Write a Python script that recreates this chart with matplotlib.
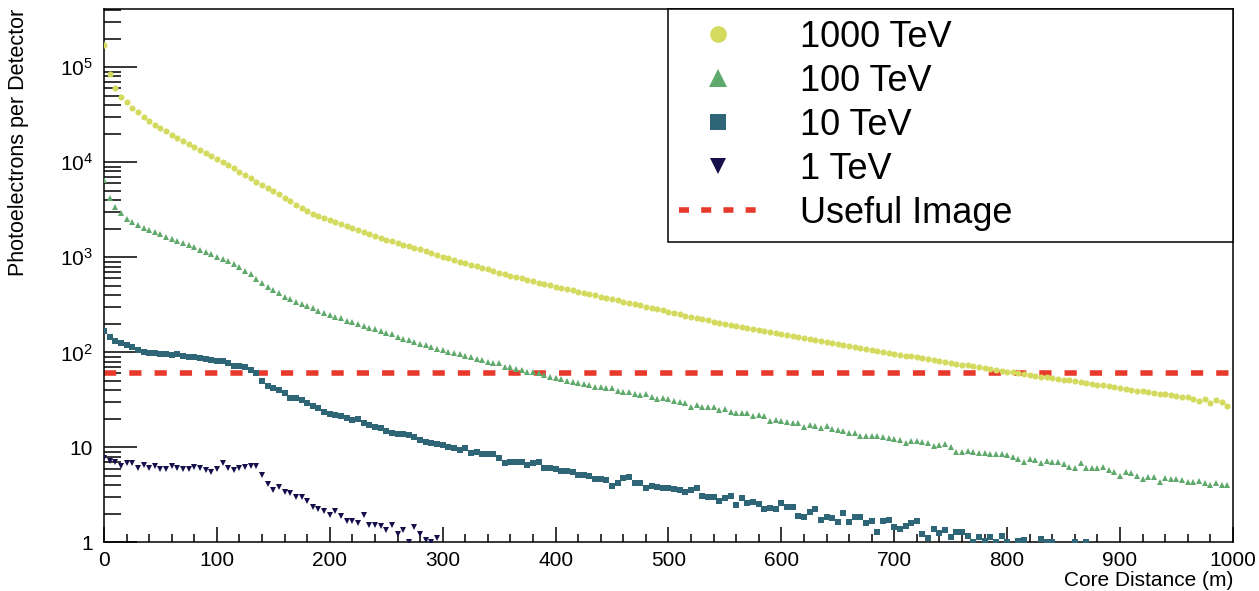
import numpy as np
import matplotlib
matplotlib.use('Agg')
import matplotlib.pyplot as plt
from matplotlib.lines import Line2D
from matplotlib.ticker import LogLocator, MultipleLocator, FuncFormatter, NullFormatter

plt.rcParams['font.family'] = ['Liberation Sans', 'DejaVu Sans']
plt.rcParams['mathtext.fontset'] = 'custom'
plt.rcParams['mathtext.rm'] = 'Liberation Sans'

nan = np.nan

# core distance bins (m), one point every 5 m
distance = np.arange(0, 1000, 5)

# photoelectrons per detector
pe_1000 = [
    173000, 84300, 60500, 49200, 42600, 37300, 33400, 30000, 27200, 24900,
    22900, 21100, 19400, 18100, 16700, 15500, 14400, 13400, 12500, 11600,
    10800, 9950, 9250, 8610, 7940, 7330, 6760, 6240, 5820, 5400,
    4980, 4590, 4230, 3880, 3560, 3270, 3050, 2890, 2740, 2600,
    2470, 2360, 2250, 2140, 2040, 1950, 1830, 1740, 1670, 1600,
    1530, 1470, 1420, 1360, 1310, 1260, 1210, 1160, 1110, 1060,
    1020, 980, 940, 902, 865, 832, 802, 773, 745, 718,
    692, 667, 643, 621, 600, 579, 560, 541, 524, 507,
    492, 478, 463, 450, 436, 423, 409, 397, 385, 373,
    362, 352, 341, 331, 321, 312, 303, 294, 285, 277,
    268, 259, 251, 243, 236, 228, 222, 217, 211, 206,
    201, 196, 191, 186, 182, 177, 173, 169, 165, 161,
    157, 153, 150, 146, 143, 139, 136, 132, 129, 126,
    123, 120, 117, 115, 112, 109, 107, 104, 102, 99.3,
    97.0, 94.8, 92.7, 90.6, 88.5, 86.5, 84.7, 82.8, 81.1, 79.3,
    77.6, 75.9, 74.3, 72.8, 71.3, 69.7, 68.2, 66.8, 65.5, 64.1,
    62.8, 61.5, 60.3, 59.0, 57.8, 56.6, 55.6, 54.6, 53.6, 52.6,
    51.6, 50.7, 49.7, 48.8, 47.8, 46.9, 45.9, 45.1, 44.2, 43.4,
    42.2, 41.4, 40.6, 39.7, 38.9, 38.2, 37.5, 36.8, 36.1, 35.5,
    34.8, 34.2, 33.7, 32.1, 30.9, 32.1, 29.5, 31.3, 30.3, 27.2,
]

pe_100 = [
    6540, 4210, 3420, 2920, 2560, 2340, 2180, 2040, 1930, 1840,
    1750, 1640, 1570, 1490, 1420, 1340, 1270, 1200, 1150, 1080,
    1015, 960, 905, 841, 783, 721, 666, 594, 532, 482,
    452, 417, 385, 361, 340, 322, 307, 290, 274, 259,
    247, 237, 228, 215, 207, 199, 189, 182, 175, 166,
    160, 155, 146, 139, 134, 130, 123, 119, 115, 109,
    106, 101, 99.1, 95.9, 91.4, 88.5, 85.7, 83.0, 79.1, 76.6,
    76.6, 70.6, 69.5, 67.3, 65.2, 62.1, 62.1, 60.1, 57.3, 55.3,
    54.1, 52.0, 50.2, 49.1, 47.9, 46.4, 45.3, 43.5, 43.5, 42.5,
    41.8, 39.2, 38.5, 38.3, 36.1, 35.6, 36.1, 34.1, 32.3, 32.8,
    32.0, 30.5, 29.8, 29.1, 26.8, 27.9, 26.8, 26.6, 26.4, 24.7,
    25.5, 23.7, 23.2, 23.2, 23.2, 21.4, 21.9, 21.4, 19.1, 19.4,
    19.1, 18.6, 18.2, 18.2, 16.5, 17.2, 16.8, 15.9, 16.8, 15.6,
    15.2, 15.0, 14.1, 14.3, 13.3, 13.2, 13.2, 13.2, 13.0, 12.6,
    12.2, 12.0, 11.2, 11.8, 11.8, 11.5, 11.0, 10.3, 10.6, 10.9,
    10.2, 9.0, 9.0, 9.2, 9.0, 8.8, 8.7, 8.5, 8.5, 8.5,
    8.3, 7.9, 7.55, 6.97, 7.55, 7.37, 6.8, 7.19, 6.97, 7.08,
    6.68, 6.27, 6.03, 6.8, 6.03, 6.03, 6.03, 6.18, 5.78, 5.56,
    5.0, 5.56, 5.42, 5.05, 4.65, 4.92, 4.92, 4.36, 4.73, 4.65,
    4.65, 4.54, 4.36, 4.36, 4.47, 4.26, 4.03, 4.19, 4.03, 3.98,
]

# 0 .. 870 m, nan where nothing is visible above 1
pe_10 = [
    167, 144, 133, 127, 121, 115, 106, 101, 99.1, 99.1,
    95.9, 95.3, 94.5, 95.9, 92.1, 88.5, 88.5, 86.5, 84.4, 83.0,
    81.0, 81.0, 76.6, 72.3, 71.8, 70.6, 65.2, 61.1, 49.9, 44.6,
    42.5, 40.2, 37.6, 33.3, 33.3, 31.5, 29.1, 27.2, 25.9, 23.7,
    22.4, 21.9, 21.5, 20.2, 19.4, 19.7, 18.2, 17.2, 16.3, 16.1,
    14.9, 14.3, 13.8, 13.8, 13.5, 13.0, 12.0, 11.5, 11.2, 10.9,
    10.6, 10.2, 9.78, 9.39, 9.78, 8.79, 9.02, 8.53, 8.53, 8.53,
    7.68, 6.90, 6.97, 7.08, 7.08, 6.53, 6.90, 7.08, 6.03, 6.12,
    5.93, 5.69, 5.65, 5.47, 5.13, 5.13, 5.00, 4.62, 4.62, 4.54,
    3.95, 4.26, 4.73, 4.92, 4.26, 4.26, 3.72, 3.93, 3.80, 3.72,
    3.72, 3.65, 3.56, 3.37, 3.56, 3.72, 3.08, 3.03, 3.03, 2.75,
    2.91, 3.08, 2.48, 2.91, 2.58, 2.69, 2.54, 2.23, 2.29, 2.23,
    2.62, 2.38, 2.38, 1.90, 1.87, 2.08, 2.23, 1.72, 1.87, 1.80,
    1.66, 2.03, 1.66, 1.87, 1.84, 1.61, 1.69, 1.30, 1.69, 1.72,
    1.47, 1.38, 1.49, 1.61, 1.69, 1.22, 1.12, 1.38, 1.25, 1.35,
    1.13, 1.30, 1.30, 1.17, 1.00, 1.15, 1.04, 1.13, 1.02, 1.17,
    1.02, nan, 1.04, 1.05, nan, nan, 1.10, 1.00, 1.00, nan,
    nan, nan, 1.02, nan, 1.00,
]

# 0 .. 295 m
pe_1 = [
    7.80, 7.25, 7.08, 6.42, 6.81, 6.81, 6.03, 6.53, 6.03, 6.37,
    5.88, 5.88, 6.37, 6.03, 5.88, 5.88, 6.27, 6.12, 5.78, 5.56,
    5.88, 6.81, 6.12, 5.78, 6.03, 6.27, 6.37, 6.42, 5.13, 4.09,
    3.56, 3.80, 3.37, 3.34, 2.99, 3.03, 2.73, 2.35, 2.23, 2.14,
    1.95, 2.16, 1.90, 1.68, 1.68, 1.59, 1.95, 1.53, 1.53, 1.49,
    1.35, 1.53, 1.22, 1.35, 1.00, 1.45, 1.22, 1.06, 1.00, 1.11,
]

useful_image = 60  # p.e. threshold

labels = ['1000 TeV', '100 TeV', '10 TeV', '1 TeV', 'Useful Image']
colors = ['#d3da5e', '#5ea96b', '#2e6577', '#15104c']
red = '#e83a2c'
dash = (0, (2.2, 2.35))

fig = plt.figure(figsize=(12.59, 5.91), dpi=100)
ax = fig.add_axes([0.0826, 0.0821, 0.8967, 0.9027])

ax.axhline(useful_image, color=red, lw=4, ls=dash, dash_capstyle='butt', zorder=2)

ax.plot(distance, pe_1000, ls='none', marker='o', ms=4.4, mew=0, color=colors[0], zorder=3)
ax.plot(distance, pe_100, ls='none', marker='^', ms=5.0, mew=0, color=colors[1], zorder=3)
ax.plot(distance[:len(pe_10)], pe_10, ls='none', marker='s', ms=4.3, mew=0, color=colors[2], zorder=3)
ax.plot(distance[:len(pe_1)], pe_1, ls='none', marker='v', ms=5.0, mew=0, color=colors[3], zorder=3)

ax.set_yscale('log')
ax.set_xlim(0, 1000)
ax.set_ylim(1, 4.1e5)

ax.xaxis.set_major_locator(MultipleLocator(100))
ax.xaxis.set_minor_locator(MultipleLocator(20))
ax.yaxis.set_major_locator(LogLocator(base=10, numticks=10))
ax.yaxis.set_minor_locator(LogLocator(base=10, subs=np.arange(2, 10), numticks=20))
ax.yaxis.set_minor_formatter(NullFormatter())


def log_label(v, pos):
    e = int(round(np.log10(v)))
    if e == 0:
        return '1'
    if e == 1:
        return '10'
    return r'$\mathregular{10^{%d}}$' % e


ax.yaxis.set_major_formatter(FuncFormatter(log_label))

ax.tick_params(axis='both', which='both', direction='in', top=False, right=False,
               width=1.1, color='black')
ax.tick_params(axis='y', which='major', length=24, pad=8, labelsize=15)
ax.tick_params(axis='y', which='minor', length=12)
ax.tick_params(axis='x', which='major', length=11, pad=6, labelsize=15)
ax.tick_params(axis='x', which='minor', length=6)
for s in ax.spines.values():
    s.set_linewidth(1.1)

ax.set_xlabel('Core Distance (m)', fontsize=15, loc='right', labelpad=1)
ax.set_ylabel('Photoelectrons per Detector', fontsize=15.5, loc='top')
ax.yaxis.set_label_coords(-0.066, 1.0)

handles = [
    Line2D([], [], ls='none', marker='o', ms=12, mew=0, color=colors[0]),
    Line2D([], [], ls='none', marker='^', ms=13, mew=0, color=colors[1]),
    Line2D([], [], ls='none', marker='s', ms=11, mew=0, color=colors[2]),
    Line2D([], [], ls='none', marker='v', ms=12, mew=0, color=colors[3]),
    Line2D([], [], color=red, lw=4, ls=(0, (1.8, 2.2)), dash_capstyle='butt'),
]
leg = ax.legend(handles, labels, loc='upper left',
                bbox_to_anchor=(0.4996, 0.563, 0.5004, 0.437), mode='expand',
                borderaxespad=0, fontsize=26, handlelength=2.15, handletextpad=1.2,
                borderpad=0.3, labelspacing=0.25, fancybox=False, framealpha=1,
                edgecolor='black')
leg.get_frame().set_linewidth(1.1)
leg.set_zorder(5)

fig.savefig('out.png', dpi=100)
